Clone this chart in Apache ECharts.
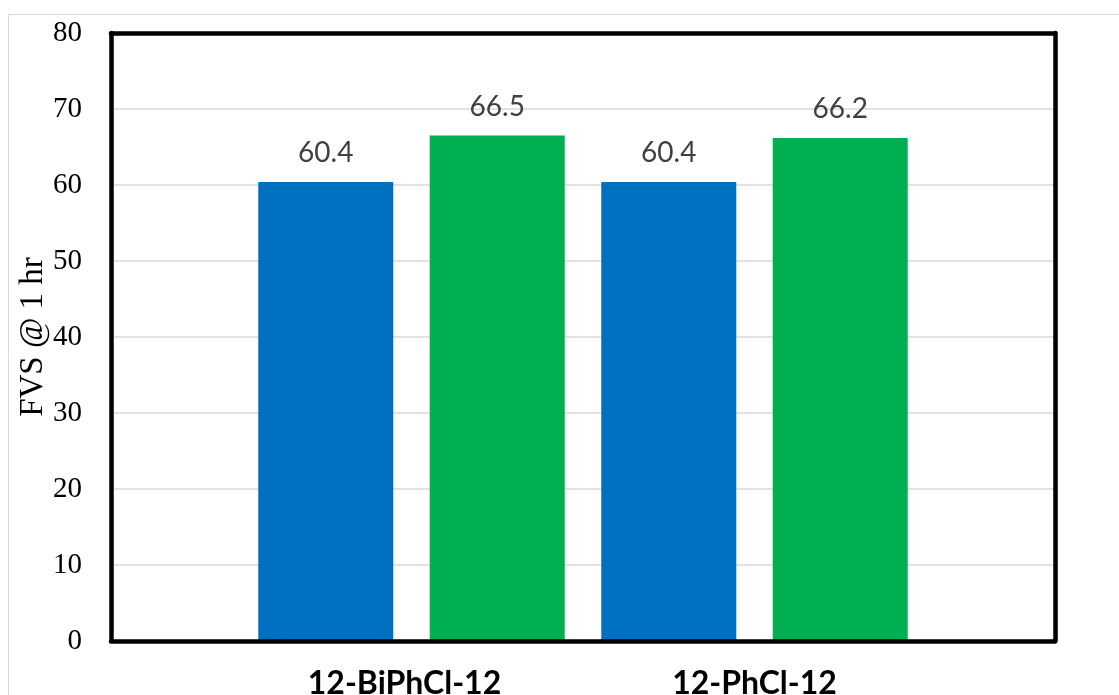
<!DOCTYPE html>
<html>
<head>
<meta charset="utf-8">
<script src="https://cdn.jsdelivr.net/npm/echarts@6/dist/echarts.min.js"></script>
<style>
  html, body { margin: 0; padding: 0; background: #ffffff; }
  #chart { width: 1119px; height: 695px; }
</style>
</head>
<body>
<div id="chart"></div>
<script>
// Samples and measured FVS values
const categories = ['12-BiPhCl-12', '12-PhCl-12'];
const blueValues = [60.4, 60.4];
const greenValues = [66.5, 66.2];
const yTicks = { min: 0, max: 80, interval: 10 };
const yAxisTitle = 'FVS @ 1 hr';

const chart = echarts.init(document.getElementById('chart'), null, { renderer: 'canvas' });

const frameLine = { show: true, onZero: false, lineStyle: { color: '#000000', width: 4.5, cap: 'round' } };

const valueLabel = {
  show: true,
  position: 'top',
  distance: 15,
  color: '#404040',
  fontFamily: 'Lato',
  fontSize: 28,
  formatter: p => p.value.toFixed(1)
};

chart.setOption({
  backgroundColor: '#ffffff',
  animation: false,
  graphic: [{
    type: 'rect',
    shape: { x: 8.5, y: 14.5, width: 1200, height: 800 },
    style: { fill: 'none', stroke: '#d9d9d9', lineWidth: 1 },
    silent: true,
    z: -10
  }],
  grid: [
    // framed plot area carrying the value axis
    { left: 111, top: 33, right: 64, bottom: 54, outerBoundsMode: 'none' },
    // inner band where the two category groups sit
    { left: 240, top: 33, width: 686, bottom: 54, outerBoundsMode: 'none' }
  ],
  xAxis: [
    { type: 'category', gridIndex: 0, position: 'bottom', data: [''], z: 5,
      axisLine: frameLine, axisTick: { show: false }, axisLabel: { show: false } },
    { type: 'category', gridIndex: 0, position: 'top', data: [''], z: 5,
      axisLine: frameLine, axisTick: { show: false }, axisLabel: { show: false } },
    {
      type: 'category', gridIndex: 1, data: categories,
      axisLine: { show: false }, axisTick: { show: false },
      axisLabel: {
        interval: 0,
        color: '#000000', fontFamily: 'Lato', fontWeight: 'bold', fontSize: 32, margin: 27,
        formatter: (v, i) => (i === 0 ? '{first|' + v + '}' : v),
        rich: { first: { color: '#000000', fontFamily: 'Lato', fontWeight: 'bold', fontSize: 32, padding: [0, 14, 0, 0] } }
      }
    }
  ],
  yAxis: [
    {
      type: 'value', gridIndex: 0, min: yTicks.min, max: yTicks.max, interval: yTicks.interval, z: 0,
      name: yAxisTitle, nameLocation: 'middle', nameRotate: 90, nameGap: 61, nameMoveOverlap: false,
      nameTextStyle: { color: '#000000', fontFamily: 'Liberation Serif', fontSize: 33 },
      axisLine: frameLine, axisTick: { show: false },
      axisLabel: { color: '#000000', fontFamily: 'Liberation Serif', fontSize: 29, margin: 29 },
      splitLine: { show: true, lineStyle: { color: '#d9d9d9', width: 1.5 } }
    },
    {
      type: 'value', gridIndex: 0, position: 'right', min: yTicks.min, max: yTicks.max, interval: yTicks.interval, z: 5,
      axisLine: frameLine, axisTick: { show: false }, axisLabel: { show: false }, splitLine: { show: false }
    },
    {
      type: 'value', gridIndex: 1, min: yTicks.min, max: yTicks.max, interval: yTicks.interval,
      show: false, splitLine: { show: false }
    }
  ],
  series: [
    {
      type: 'bar', xAxisIndex: 2, yAxisIndex: 2, data: blueValues,
      barWidth: 135, barGap: '27%',
      itemStyle: { color: '#0070C0' }, label: valueLabel
    },
    {
      type: 'bar', xAxisIndex: 2, yAxisIndex: 2, data: greenValues,
      barWidth: 135, barGap: '27%',
      itemStyle: { color: '#00B050' }, label: valueLabel
    }
  ]
});
</script>
</body>
</html>
